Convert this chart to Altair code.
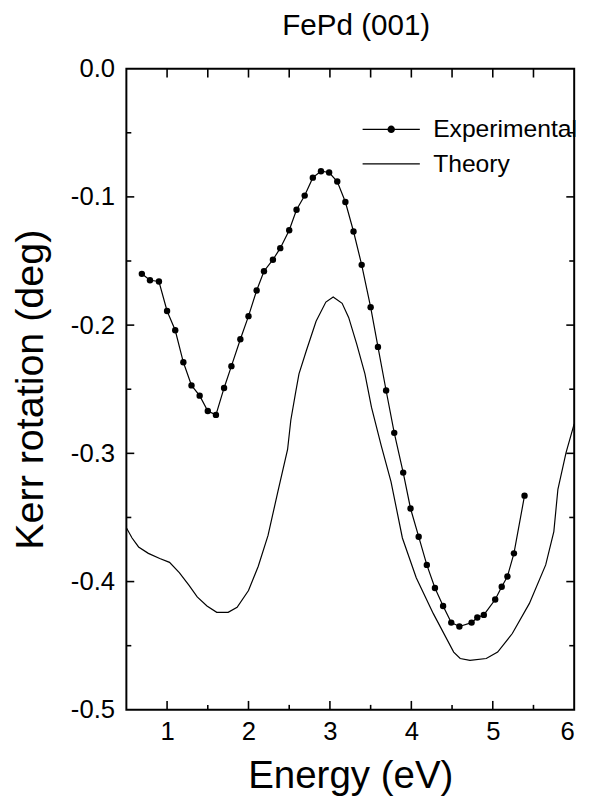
import altair as alt
import pandas as pd

# Experimental data (dots + line)
exp_energy = [0.69, 0.79, 0.90, 1.00, 1.10, 1.20, 1.30, 1.40, 1.50, 1.60,
              1.70, 1.79, 1.90, 2.00, 2.10, 2.19, 2.30, 2.39, 2.50, 2.59,
              2.69, 2.79, 2.89, 2.99, 3.09, 3.19, 3.29, 3.39, 3.50, 3.59,
              3.69, 3.79, 3.90, 3.99, 4.09, 4.19, 4.29, 4.39, 4.49, 4.59,
              4.74, 4.81, 4.89, 5.03, 5.11, 5.18, 5.26, 5.39]
exp_kerr = [-0.160, -0.165, -0.166, -0.189, -0.204, -0.229, -0.247, -0.255, -0.267, -0.270,
            -0.249, -0.232, -0.211, -0.193, -0.173, -0.158, -0.149, -0.140, -0.126, -0.110,
            -0.099, -0.085, -0.080, -0.081, -0.088, -0.104, -0.127, -0.153, -0.186, -0.217,
            -0.251, -0.284, -0.315, -0.343, -0.365, -0.387, -0.405, -0.419, -0.432, -0.435,
            -0.432, -0.428, -0.426, -0.414, -0.404, -0.396, -0.378, -0.333]

# Theory curve
theory_energy = [0.50, 0.57, 0.65, 0.77, 0.91, 1.03, 1.15, 1.27, 1.37, 1.49,
                 1.61, 1.75, 1.86, 2.00, 2.12, 2.24, 2.36, 2.48, 2.52, 2.58,
                 2.62, 2.71, 2.83, 2.95, 3.04, 3.15, 3.23, 3.33, 3.43, 3.51,
                 3.63, 3.75, 3.89, 4.06, 4.27, 4.52, 4.60, 4.72, 4.92, 5.06,
                 5.24, 5.45, 5.65, 5.75, 5.80, 5.90, 6.00]
theory_kerr = [-0.358, -0.366, -0.373, -0.378, -0.382, -0.385, -0.393, -0.403, -0.412, -0.419,
               -0.424, -0.424, -0.420, -0.407, -0.388, -0.364, -0.330, -0.297, -0.274, -0.252,
               -0.238, -0.220, -0.197, -0.182, -0.178, -0.183, -0.194, -0.215, -0.238, -0.264,
               -0.294, -0.322, -0.366, -0.397, -0.425, -0.455, -0.460, -0.4615, -0.460, -0.455,
               -0.4405, -0.417, -0.387, -0.361, -0.328, -0.2995, -0.277]

series_names = ["Experimental", "Theory"]

# axis tick positions (drawn inward)
x_major = [1, 2, 3, 4, 5]
x_minor = [1.5, 2.5, 3.5, 4.5, 5.5]
y_major = [-0.1, -0.2, -0.3, -0.4]
y_minor = [-0.05, -0.15, -0.25, -0.35, -0.45]

FONT = "Liberation Sans"
W, H = 454, 650

exp_df = pd.DataFrame({"energy": exp_energy, "kerr": exp_kerr, "series": series_names[0]})
th_df = pd.DataFrame({"energy": theory_energy, "kerr": theory_kerr, "series": series_names[1]})
line_df = pd.concat([exp_df, th_df], ignore_index=True)
legend_df = pd.DataFrame({"series": series_names})

xscale = alt.Scale(domain=[0.5, 6], nice=False, zero=False)
yscale = alt.Scale(domain=[-0.5, 0], nice=False, zero=False)

x_axis = alt.Axis(values=[1, 2, 3, 4, 5, 6], format="d", ticks=False, domain=False, grid=False,
                  labelFontSize=26, labelPadding=9, labelFont=FONT, labelColor="black",
                  title="Energy (eV)", titleFontSize=39, titleFontWeight="normal",
                  titleFont=FONT, titleColor="black", titlePadding=13)
y_axis = alt.Axis(values=[0, -0.1, -0.2, -0.3, -0.4, -0.5], ticks=False, domain=False, grid=False,
                  labelFontSize=26, labelPadding=12, labelFont=FONT, labelColor="black",
                  labelExpr="datum.value == 0 ? '0.0' : '-' + format(-datum.value, '.1f')",
                  title="Kerr rotation (deg)", titleFontSize=40, titleFontWeight="normal",
                  titleFont=FONT, titleColor="black", titlePadding=20)

# legend symbols: horizontal line, plus a filled dot (concentric rings) for the experimental series
def _ring(a):
    return f"M{a},0A{a},{a},0,1,1,{-a},0A{a},{a},0,1,1,{a},0"

exp_path = "M-3,0H3" + "".join(_ring(a) for a in [0.05, 0.15, 0.25, 0.33])
th_path = "M-3,0H3"

legend = alt.Legend(
    title=None, orient="none", legendX=256, legendY=49,
    labelFontSize=25, labelFont=FONT, labelColor="black",
    symbolSize=374, labelOffset=30, rowPadding=9, padding=0,
    symbolStrokeColor="black", symbolStrokeWidth=1.2, symbolOpacity=1,
)

lines = alt.Chart(line_df).mark_line(strokeWidth=1.2, color="black").encode(
    x=alt.X("energy:Q", scale=xscale, axis=x_axis),
    y=alt.Y("kerr:Q", scale=yscale, axis=y_axis),
    detail="series:N",
)

dots = alt.Chart(exp_df).mark_circle(size=42, color="black", opacity=1).encode(
    x=alt.X("energy:Q", scale=xscale),
    y=alt.Y("kerr:Q", scale=yscale),
)

legend_layer = alt.Chart(legend_df).mark_point(
    filled=False, color="black", strokeWidth=1.2, opacity=0, size=374
).encode(
    shape=alt.Shape("series:N", scale=alt.Scale(domain=series_names, range=[exp_path, th_path]),
                    legend=legend),
)

def xticks(vals, y0, y1):
    return alt.Chart(pd.DataFrame({"v": vals})).mark_rule(color="black", strokeWidth=1.6).encode(
        x=alt.X("v:Q", scale=xscale), y=alt.value(y0), y2=alt.value(y1))

def yticks(vals, x0, x1):
    return alt.Chart(pd.DataFrame({"v": vals})).mark_rule(color="black", strokeWidth=1.6).encode(
        y=alt.Y("v:Q", scale=yscale), x=alt.value(x0), x2=alt.value(x1))

ticks = [
    xticks(x_major, H, H - 9), xticks(x_minor, H, H - 5),
    xticks(x_major + x_minor, 0, 9),
    yticks(y_major, 0, 8), yticks(y_minor, 0, 5),
    yticks(y_major, W, W - 8), yticks(y_minor, W, W - 5),
]

chart = alt.layer(lines, dots, legend_layer, *ticks).properties(
    width=W, height=H,
    title=alt.TitleParams("FePd (001)", fontSize=30, font=FONT, fontWeight="normal",
                          color="black", anchor="middle", offset=15, dx=6, limit=400),
    autosize=alt.AutoSizeParams(type="none"),
    padding={"left": 120, "top": 56, "right": 14, "bottom": 90},
    background="white",
).configure_view(stroke="black", strokeWidth=2)

chart.save("out.html", embed_options={"renderer": "svg", "actions": False})
